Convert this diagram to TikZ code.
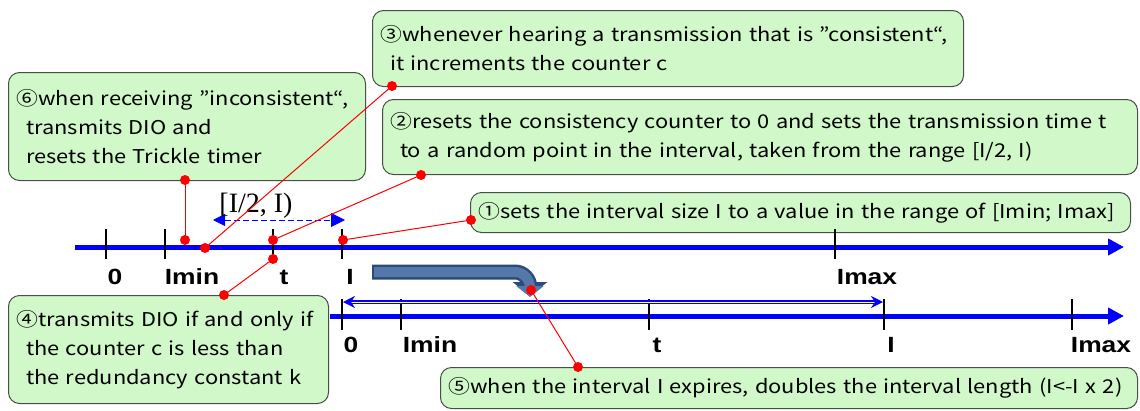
\documentclass[tikz,border=0pt]{standalone}
\usepackage{fontspec}
\newfontfamily\jp[FakeStretch=1.15]{Noto Sans CJK JP}
\newfontfamily\lab[FakeStretch=1.2]{Liberation Sans}
\newfontfamily\ser{Liberation Serif}
\usetikzlibrary{arrows.meta}
\definecolor{boxgreen}{RGB}{208,248,200}
\definecolor{boxedge}{RGB}{70,80,70}
\definecolor{bigdark}{RGB}{45,75,120}
\definecolor{biglight}{RGB}{85,120,170}
\tikzset{
  box/.style={draw=boxedge, fill=boxgreen, rounded corners=11pt, line width=1pt,
    anchor=north west, align=left, inner xsep=8pt, inner ysep=0pt,
    font=\jp\fontsize{19}{29}\selectfont},
  redline/.style={draw=red, line width=1pt},
  dot/.style={circle, fill=red, inner sep=0pt, minimum size=10pt},
  axisline/.style={blue, line width=5pt, -{Triangle[length=16pt,width=16pt]}},
  tickmark/.style={line width=1.6pt},
  lbl/.style={font=\lab\bfseries\fontsize{22}{22}\selectfont, inner sep=0pt},
}
\begin{document}
\begin{tikzpicture}[x=1pt,y=-1pt]
\useasboundingbox (0,0) rectangle (1140,410);

% boxes
\node[box, minimum width=591pt, minimum height=76pt, text width=575pt] (b3) at (372,10)
  {③whenever hearing a transmission that is ”consistent“,\\\hspace*{0.5em}it increments the counter c};
\node[box, minimum width=357pt, minimum height=108pt, text width=341pt] (b6) at (8,72)
  {⑥when receiving ”inconsistent“,\\\hspace*{0.5em}transmits DIO and\\\hspace*{0.5em}resets the Trickle timer};
\node[box, minimum width=755pt, minimum height=75pt, text width=739pt] (b2) at (382,99)
  {②resets the consistency counter to 0 and sets the transmission time t\\\hspace*{0.5em}to a random point in the interval, taken from the range [I/2, I)};
\node[box, minimum width=660pt, minimum height=40pt, text width=644pt] (b1) at (470,192)
  {①sets the interval size I to a value in the range of [Imin; Imax]};
\node[box, minimum width=320pt, minimum height=108pt, text width=304pt] (b4) at (8,295)
  {④transmits DIO if and only if\\\hspace*{0.5em}the counter c is less than\\\hspace*{0.5em}the redundancy constant k};
\node[box, minimum width=697pt, minimum height=41pt, text width=681pt] (b5) at (440,367)
  {⑤when the interval I expires, doubles the interval length (I<-I x 2)};

% axis 1
\coordinate (a1s) at (75,247);
\coordinate (a1e) at (1124,247);
\draw[axisline] (a1s) -- (a1e);
\foreach \x in {106,165,273,342,835}
  \draw[tickmark] (\x,229) -- (\x,259);
\node[lbl] (l10) at (115,277) {0};
\node[lbl] (l11) at (192,277) {Imin};
\node[lbl] (l12) at (284,277) {t};
\node[lbl] (l13) at (350,277) {I};
\node[lbl] (l14) at (867,277) {Imax};

% axis 2
\coordinate (a2s) at (330,316);
\coordinate (a2e) at (1124,316);
\draw[axisline] (a2s) -- (a2e);
\foreach \x in {342,401,649,884,1072}
  \draw[tickmark] (\x,299) -- (\x,330);
\node[lbl] (l20) at (351,345) {0};
\node[lbl] (l21) at (430,345) {Imin};
\node[lbl] (l22) at (657,345) {t};
\node[lbl] (l23) at (891,345) {I};
\node[lbl] (l24) at (1101,345) {Imax};

% interval arrow on axis 2
\coordinate (i0) at (343,302);
\coordinate (i1) at (883,302);
\draw[blue, line width=1.2pt, double=white, double distance=1pt, {Stealth[length=12pt,width=12pt]}-{Stealth[length=12pt,width=12pt]}] (i0) -- (i1);

% [I/2, I) dashed arrow
\coordinate (h0) at (213,220);
\coordinate (h1) at (345,220);
\draw[blue, line width=1pt, dash pattern=on 6pt off 3pt, {Triangle[length=12pt,width=12pt]}-{Triangle[length=14pt,width=14pt]}] (h0) -- (h1);
\node[font=\ser\fontsize{28}{28}\selectfont, inner sep=0pt] (half) at (256,206) {[I/2, I)};

% big bent arrow
\draw[bigdark, line width=15pt, -{Triangle[length=14pt,width=34pt]}]
  (372,272) -- (515,272) to[out=0,in=90] (530,288) -- (530,296);
\draw[biglight, line width=10pt, -{Triangle[length=11pt,width=27pt]}]
  (374,272) -- (515,272) to[out=0,in=90] (530,288) -- (530,297);

% dots on the lines
\node[dot] (d6a) at (185,180) {};
\node[dot] (d6b) at (185,240) {};
\node[dot] (d3a) at (392,86) {};
\node[dot] (d3b) at (205,248) {};
\node[dot] (d2a) at (421,175) {};
\node[dot] (d2b) at (273,240) {};
\node[dot] (d1a) at (471,220) {};
\node[dot] (d1b) at (343,240) {};
\node[dot] (d4a) at (224,295) {};
\node[dot] (d4b) at (273,259) {};
\node[dot] (d5a) at (578,367) {};
\node[dot] (d5b) at (531,290) {};

\draw[redline] (d6a.center) -- (d6b.center);
\draw[redline] (d3a.center) -- (d3b.center);
\draw[redline] (d2a.center) -- (d2b.center);
\draw[redline] (d1a.center) -- (d1b.center);
\draw[redline] (d4a.center) -- (d4b.center);
\draw[redline] (d5a.center) -- (d5b.center);
\end{tikzpicture}
\end{document}
